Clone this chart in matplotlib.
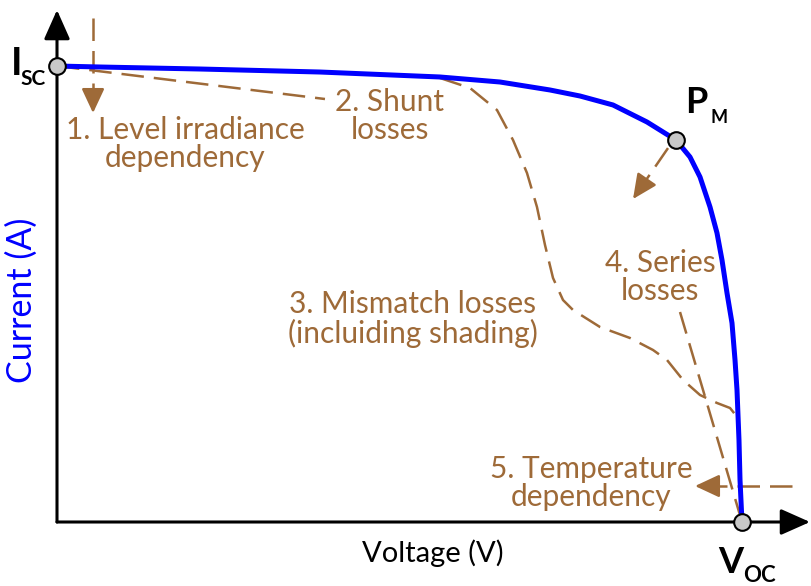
import matplotlib
matplotlib.use("Agg")
import matplotlib.pyplot as plt
from matplotlib.patches import FancyArrowPatch

# ---- data (normalised: V / Voc, I / Isc) ----
iv_voltage = [0.0, 0.0628, 0.2088, 0.3839, 0.5591, 0.6467, 0.7197, 0.7635, 0.8117,
              0.8613, 0.9036, 0.9241, 0.9387, 0.9533, 0.9635, 0.9708, 0.9781,
              0.9854, 0.9898, 0.9927, 0.9956, 0.9971, 1.0]
iv_current = [1.0, 0.9978, 0.9934, 0.9868, 0.9759, 0.9649, 0.9474, 0.9342, 0.9145,
              0.8772, 0.8377, 0.8004, 0.7566, 0.6908, 0.6338, 0.5746, 0.5022,
              0.4364, 0.3553, 0.2895, 0.1798, 0.0921, 0.0]

mismatch_voltage = [0.5591, 0.6029, 0.6423, 0.6657, 0.6861, 0.7007, 0.7124, 0.7241,
                    0.7387, 0.7533, 0.7927, 0.8365, 0.8701, 0.8905, 0.9139, 0.9387,
                    0.9635, 0.9825, 0.9942]
mismatch_current = [0.9737, 0.9518, 0.9035, 0.8377, 0.7654, 0.6908, 0.6075, 0.5351,
                    0.4868, 0.4649, 0.4276, 0.4035, 0.3772, 0.3553, 0.3114, 0.2785,
                    0.2610, 0.2500, 0.2281]

shunt_voltage = [0.0, 0.3912]
shunt_current = [1.0, 0.9276]

series_voltage = [0.9095, 1.0]
series_current = [0.4605, 0.0]

key_points_v = [0.0, 0.9036, 1.0]   # Isc, Pm, Voc
key_points_i = [1.0, 0.8377, 0.0]

BROWN = "#9E6A38"
BLUE = "#0000FF"
FONT = "Lato"

fig = plt.figure(figsize=(8.11, 5.86), dpi=100)
ax = fig.add_axes([0, 0, 1, 1])
ax.set_xlim(-57 / 685, (811 - 57) / 685)
ax.set_ylim(-(586 - 522) / 456, 522 / 456)
ax.axis("off")


def arrow(p0, p1, color, lw, hl, hw, z=3):
    a = FancyArrowPatch(p0, p1, arrowstyle=f"-|>,head_length={hl},head_width={hw}",
                        mutation_scale=1, color=color, lw=lw, shrinkA=0, shrinkB=0,
                        zorder=z)
    ax.add_patch(a)


# axes with arrows
arrow((0, 0), (0, 1.1228), "black", 2.2, 18, 8, z=2)
arrow((0, 0), (1.0993, 0), "black", 2.2, 18, 8, z=2)

dash = (0, (9, 4))
# loss curves
ax.plot(shunt_voltage, shunt_current, color=BROWN, lw=1.8, ls=dash, zorder=3)
ax.plot(mismatch_voltage, mismatch_current, color=BROWN, lw=1.8, ls=dash, zorder=3)
ax.plot(series_voltage, series_current, color=BROWN, lw=1.8, ls=dash, zorder=3)


def dashed_arrow(p0, p1):
    # dashed shaft + solid head
    fx = p0[0] + (p1[0] - p0[0]) * 0.82
    fy = p0[1] + (p1[1] - p0[1]) * 0.82
    ax.plot([p0[0], fx], [p0[1], fy], color=BROWN, lw=1.8, ls=dash, zorder=3)
    arrow((fx, fy), p1, BROWN, 1.8, 15, 7, z=3)


dashed_arrow((0.0526, 1.105), (0.0526, 0.8969))      # irradiance
dashed_arrow((0.892, 0.820), (0.8409, 0.7083))       # Pm
dashed_arrow((1.073, 0.0789), (0.9314, 0.0789))      # temperature

# main IV curve
ax.plot(iv_voltage, iv_current, color=BLUE, lw=3.6, zorder=4, solid_capstyle="round",
        solid_joinstyle="round")

# key points
ax.plot(key_points_v, key_points_i, "o", ms=12, mfc="#C8C8C8", mec="black", mew=1.5,
        zorder=6, clip_on=False)

# brown annotation texts
tk = dict(color=BROWN, fontsize=21.5, family=FONT, ha="center", va="center",
          multialignment="center", linespacing=1.0, zorder=5)
ax.text(0.1869, 0.8289, "1. Level irradiance\ndependency", **tk)
ax.text(0.4861, 0.8904, "2. Shunt\nlosses", **tk)
ax.text(0.5197, 0.4452, "3. Mismatch losses\n(incluiding shading)", **tk)
ax.text(0.8803, 0.5373, "4. Series\nlosses", **tk)
ax.text(0.7796, 0.0855, "5. Temperature\ndependency", **tk)

# axis labels
ax.text(0.5489, -0.068, "Voltage (V)", fontsize=21, family=FONT, color="black",
        ha="center", va="center")
ax.text(-0.0511, 0.4868, "Current (A)", fontsize=24.5, family=FONT, color=BLUE,
        ha="center", va="center", rotation=90)

# point labels
bk = dict(color="black", family=FONT, fontweight="bold", va="baseline", ha="left")
ax.text(-0.0672, 0.9803, "I", fontsize=28, **bk)
ax.text(-0.054, 0.9583, "SC", fontsize=15, **bk)
ax.text(0.9168, 0.8969, "P", fontsize=26, **bk)
ax.text(0.9533, 0.875, "M", fontsize=13, **bk)
ax.text(0.9650, -0.1118, "V", fontsize=26, **bk)
ax.text(1.0015, -0.1316, "OC", fontsize=16, **bk)

fig.savefig("out.png", dpi=100)
